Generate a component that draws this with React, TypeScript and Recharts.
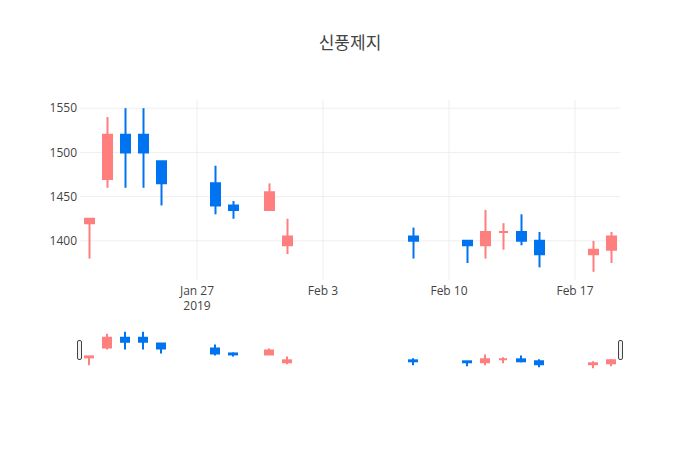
import React from 'react';
import { ComposedChart, Bar, XAxis, YAxis, CartesianGrid } from 'recharts';

const dates = [
  '2019-01-21', '2019-01-22', '2019-01-23', '2019-01-24', '2019-01-25',
  '2019-01-28', '2019-01-29', '2019-01-31', '2019-02-01', '2019-02-08',
  '2019-02-11', '2019-02-12', '2019-02-13', '2019-02-14', '2019-02-15',
  '2019-02-18', '2019-02-19',
];
const opens = [1420, 1470, 1520, 1520, 1490, 1465, 1440, 1435, 1395, 1405, 1400, 1395, 1410, 1410, 1400, 1385, 1390];
const highs = [1425, 1540, 1550, 1550, 1490, 1485, 1445, 1465, 1425, 1415, 1400, 1435, 1420, 1430, 1410, 1400, 1410];
const lows = [1380, 1460, 1460, 1460, 1440, 1430, 1425, 1435, 1385, 1380, 1375, 1380, 1390, 1395, 1370, 1365, 1375];
const closes = [1425, 1520, 1500, 1500, 1465, 1440, 1435, 1455, 1405, 1400, 1395, 1410, 1410, 1400, 1385, 1390, 1405];

const xTickDates = ['2019-01-27', '2019-02-03', '2019-02-10', '2019-02-17'];
const xTickLabels = ['Jan 27', 'Feb 3', 'Feb 10', 'Feb 17'];
const xTickYears = ['2019', '', '', ''];
const yTicks = [1400, 1450, 1500, 1550];

const UP = '#ff7f7f';
const DOWN = '#0074f0';
const FONT = '"Open Sans", verdana, arial, sans-serif';

const data = dates.map((d, i) => ({
  t: Date.parse(d),
  open: opens[i],
  high: highs[i],
  low: lows[i],
  close: closes[i],
}));

const xDomain = [Date.UTC(2019, 0, 20, 12), Date.UTC(2019, 1, 19, 12)];
const yDomain = [1355.75, 1559.25];
const xTicks = xTickDates.map((d) => Date.parse(d));

// wick + body, body placed by interpolating inside the bar's [low, high] pixels
const makeCandle = (bodyW: number) => (props: any) => {
  const { x, y, width, height, payload } = props;
  if (!payload || height == null) return null;
  const { open, close, high, low } = payload;
  const color = close >= open ? UP : DOWN;
  const span = high - low;
  const toY = (v: number) => (span === 0 ? y : y + ((high - v) / span) * height);
  const cx = x + width / 2;
  const top = toY(Math.max(open, close));
  const bottom = toY(Math.min(open, close));
  const l = cx - bodyW / 2;
  const r = cx + bodyW / 2;
  return (
    <g>
      <line x1={cx} x2={cx} y1={y} y2={y + height} stroke={color} strokeWidth={2} />
      <path d={`M${l},${top}H${r}V${bottom}H${l}Z`} fill={color} stroke={color} strokeWidth={2} />
    </g>
  );
};

const XTick = ({ x, y, payload }: any) => {
  const i = xTicks.indexOf(payload.value);
  return (
    <g>
      <text x={x} y={y + 15} textAnchor="middle" fill="#444" fontSize={12} fontFamily={FONT}>
        {xTickLabels[i]}
      </text>
      {xTickYears[i] ? (
        <text x={x} y={y + 30} textAnchor="middle" fill="#444" fontSize={12} fontFamily={FONT}>
          {xTickYears[i]}
        </text>
      ) : null}
    </g>
  );
};

const handleStyle: React.CSSProperties = {
  position: 'absolute',
  top: 340,
  width: 5,
  height: 20,
  boxSizing: 'border-box',
  border: '1px solid #444',
  borderRadius: 2,
  background: '#f2f2f2',
};

export default function App() {
  return (
    <div style={{ position: 'absolute', left: 0, top: 0, width: 700, height: 450, background: '#fff' }}>
      <div
        style={{
          position: 'absolute', top: 33, left: 0, width: 700, textAlign: 'center',
          fontSize: 17, lineHeight: '20px', color: '#444',
          fontFamily: '"Open Sans", "Noto Sans CJK KR", sans-serif',
        }}
      >
        신풍제지
      </div>
      <div style={{ position: 'absolute', left: 0, top: 0 }}>
        <ComposedChart width={700} height={320} data={data} margin={{ top: 100, right: 80, bottom: 0, left: 0 }}>
          <CartesianGrid stroke="#eee" strokeWidth={1} syncWithTicks />
          <XAxis
            dataKey="t" type="number" scale="linear" domain={xDomain} allowDataOverflow
            ticks={xTicks} tick={<XTick />} axisLine={false} tickLine={false}
            tickSize={0} tickMargin={0} height={40} interval={0}
          />
          <YAxis
            type="number" domain={yDomain} allowDataOverflow ticks={yTicks} width={80}
            axisLine={false} tickLine={false} tickSize={0} tickMargin={3}
            tick={{ fill: '#444', fontSize: 12, fontFamily: FONT }}
          />
          <Bar dataKey={(d: any) => [d.low, d.high]} barSize={11} shape={makeCandle(9)} isAnimationActive={false} />
        </ComposedChart>
      </div>
      <div style={{ position: 'absolute', left: 0, top: 330 }}>
        <ComposedChart width={700} height={40} data={data} margin={{ top: 0, right: 80, bottom: 0, left: 80 }}>
          <XAxis dataKey="t" type="number" scale="linear" domain={xDomain} allowDataOverflow hide />
          <YAxis type="number" domain={yDomain} allowDataOverflow hide />
          <Bar dataKey={(d: any) => [d.low, d.high]} barSize={10} shape={makeCandle(8)} isAnimationActive={false} />
        </ComposedChart>
      </div>
      <div style={{ ...handleStyle, left: 77 }} />
      <div style={{ ...handleStyle, left: 618 }} />
    </div>
  );
}
